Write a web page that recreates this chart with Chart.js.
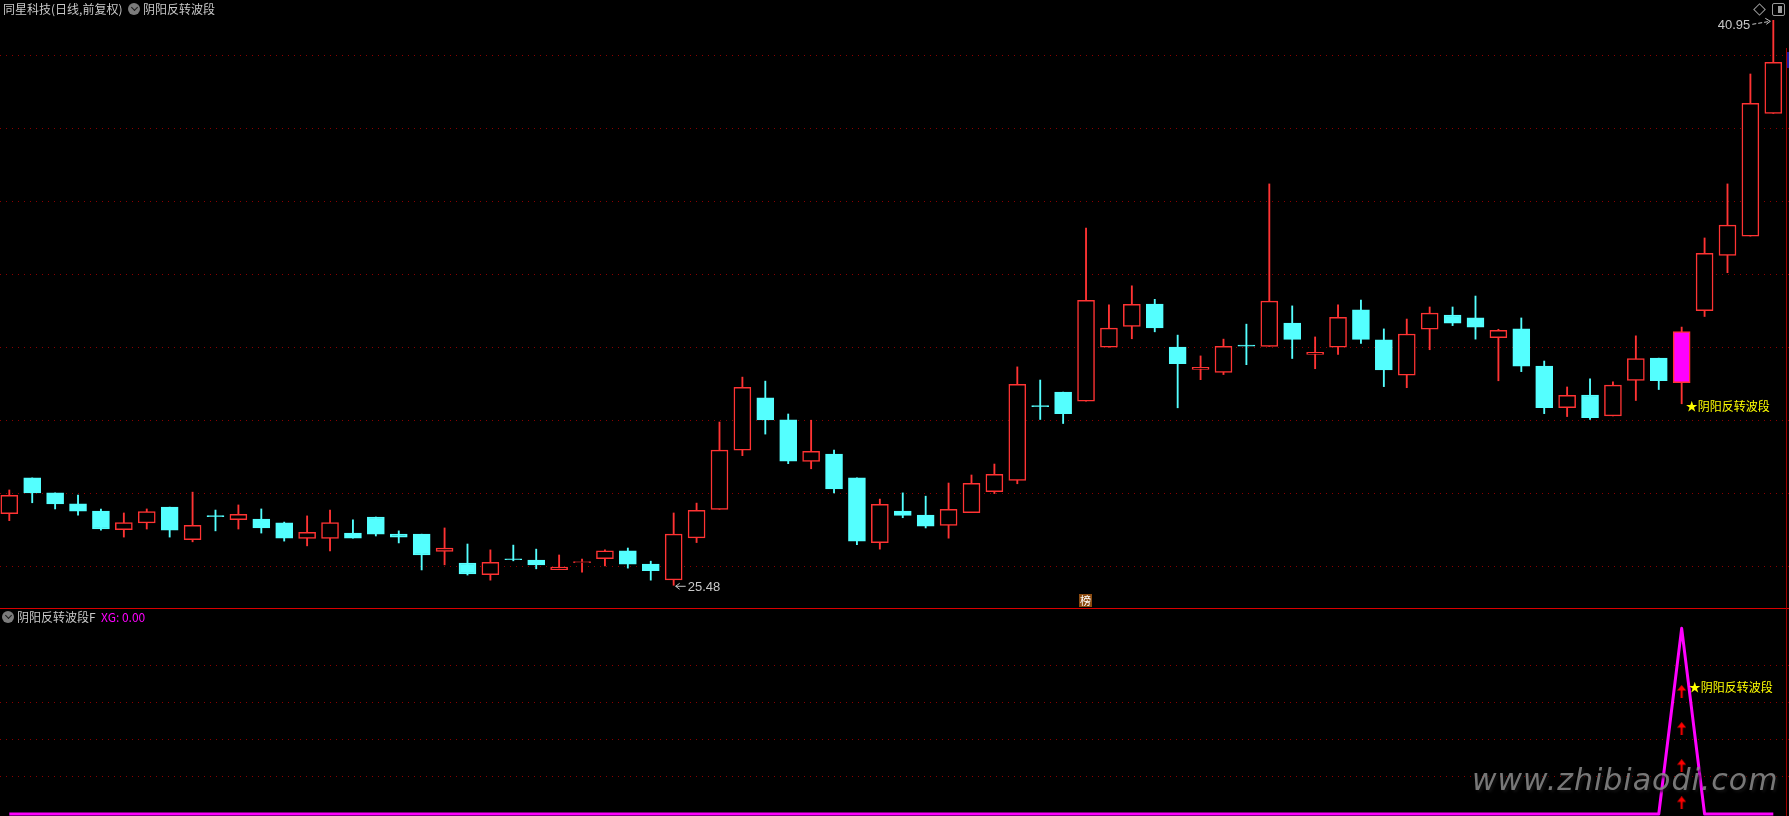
<!DOCTYPE html>
<html>
<head>
<meta charset="utf-8">
<script src="https://cdn.jsdelivr.net/npm/chart.js@4.4.1/dist/chart.umd.min.js"></script>
<style>
  body { margin: 0; background: #000; }
  #wrap { position: relative; width: 1789px; height: 816px; overflow: hidden; background: #000;
          font-family: "Noto Sans CJK SC", sans-serif; font-size: 12px; }
  .abs { position: absolute; white-space: nowrap; line-height: 14px; }
  .t { color: #c8c8c8; }
  .dot { position: absolute; width: 12px; height: 12px; border-radius: 50%; background: #7c7c7c; }
  .dot:after { content: ""; position: absolute; left: 3.5px; top: 2px; width: 4px; height: 4px;
               border-right: 1.5px solid #1a1a1a; border-bottom: 1.5px solid #1a1a1a; transform: rotate(45deg); }
  canvas { position: absolute; left: 0; }
</style>
</head>
<body>
<div id="wrap">
  <canvas id="main" width="1789" height="608" style="top:0"></canvas>
  <canvas id="sub" width="1789" height="207" style="top:609px"></canvas>

  <div class="abs" style="left:0;top:608px;width:1789px;height:1px;background:#d80000"></div>
  <div class="abs" style="left:1786px;top:48px;width:1px;height:768px;background:#a00000"></div>
  <div class="abs" style="left:1787px;top:52px;width:2px;height:16px;background:#1a1aa0"></div>

  <div class="abs t" style="left:3px;top:2px">同星科技(日线,前复权)</div>
  <div class="dot" style="left:128px;top:3px"></div>
  <div class="abs t" style="left:143px;top:2px">阴阳反转波段</div>

  <div class="abs" style="left:1755px;top:5px;width:7px;height:7px;border:1px solid #9a9a9a;transform:rotate(45deg)"></div>
  <div class="abs" style="left:1772px;top:3px;width:11px;height:11px;border:1px solid #9a9a9a;border-radius:2px">
    <div class="abs" style="left:5px;top:2px;width:4px;height:7px;background:#9a9a9a"></div>
  </div>

  <div class="abs" style="left:1079px;top:594px;width:13px;height:13px;background:#8a4a10;color:#fff;font-size:11px;line-height:13px;text-align:center">榜</div>

  <div class="dot" style="left:2px;top:611px"></div>
  <div class="abs t" style="left:17px;top:610px">阴阳反转波段F</div>
  <div class="abs" style="left:101px;top:610px;color:#ff00ff">XG: 0.00</div>

  <div class="abs" style="left:1472px;top:762px;font-family:'DejaVu Sans';font-style:italic;font-size:30px;line-height:36px;letter-spacing:1px;color:rgba(140,140,140,0.85);text-shadow:2px 2px 3px #111">www.zhibiaodi.com</div>
</div>

<script>
// daily OHLC, oldest first
const open = [27.44, 28.42, 28.01, 27.71, 27.51, 27.00, 27.19, 27.62, 26.73, 27.37,
  27.28, 27.29, 27.19, 26.76, 26.76, 26.91, 27.35, 26.88, 26.88, 26.41,
  26.09, 25.77, 26.19, 26.17, 25.91, 26.10, 26.21, 26.42, 26.06, 25.63,
  26.78, 27.56, 29.18, 30.61, 30.01, 28.87, 29.07, 28.42, 26.65, 27.51,
  27.40, 27.12, 27.47, 28.04, 28.35, 30.38, 30.77, 30.52, 32.00, 32.57,
  33.18, 32.00, 31.39, 31.31, 32.04, 32.02, 32.66, 31.80, 32.00, 33.02,
  32.20, 31.23, 32.49, 32.88, 32.80, 32.26, 32.50, 31.48, 30.34, 30.69,
  30.12, 31.09, 31.70, 31.03, 33.00, 34.51, 35.04, 38.40];
const high = [28.09, 28.42, 28.01, 27.95, 27.57, 27.46, 27.57, 27.62, 28.03, 27.54,
  27.68, 27.57, 27.21, 27.38, 27.54, 27.27, 27.35, 26.97, 26.88, 27.05,
  26.61, 26.45, 26.58, 26.47, 26.31, 26.20, 26.45, 26.50, 26.14, 27.46,
  27.73, 29.95, 31.18, 31.07, 30.17, 30.00, 29.18, 28.42, 27.84, 28.01,
  27.92, 28.28, 28.50, 28.80, 31.46, 31.10, 30.77, 35.26, 33.16, 33.68,
  33.31, 32.33, 31.76, 32.22, 32.63, 36.47, 33.13, 32.28, 33.16, 33.29,
  32.50, 32.77, 33.10, 33.10, 33.40, 32.49, 32.80, 31.62, 30.91, 31.13,
  31.05, 32.31, 31.70, 32.55, 34.99, 36.47, 39.48, 40.95];
const low = [27.25, 27.74, 27.57, 27.40, 26.99, 26.80, 27.02, 26.80, 26.67, 26.97,
  27.02, 26.91, 26.69, 26.56, 26.42, 26.77, 26.83, 26.64, 25.90, 26.04,
  25.76, 25.62, 26.15, 25.93, 25.91, 25.84, 26.01, 25.95, 25.62, 25.48,
  26.65, 27.56, 29.03, 29.62, 28.81, 28.67, 28.01, 26.59, 26.47, 27.33,
  27.05, 26.77, 27.47, 27.99, 28.26, 30.02, 29.91, 30.52, 32.00, 32.23,
  32.42, 30.34, 31.11, 31.25, 31.52, 32.02, 31.69, 31.41, 31.80, 32.10,
  30.92, 30.89, 31.93, 32.59, 32.22, 31.08, 31.33, 30.18, 30.10, 30.02,
  30.12, 30.54, 30.84, 30.45, 32.84, 34.04, 35.04, 38.40];
const close = [27.94, 28.01, 27.71, 27.51, 27.02, 27.20, 27.50, 26.99, 27.12, 27.36,
  27.42, 27.05, 26.77, 26.93, 27.20, 26.77, 26.88, 26.80, 26.31, 26.50,
  25.79, 26.11, 26.18, 26.04, 25.98, 26.11, 26.42, 26.06, 25.88, 26.88,
  27.53, 29.18, 30.90, 30.01, 28.88, 29.15, 28.12, 26.69, 27.70, 27.39,
  27.10, 27.56, 28.27, 28.52, 30.98, 30.37, 30.18, 33.28, 32.52, 33.17,
  32.53, 31.55, 31.45, 32.02, 32.03, 33.26, 32.21, 31.86, 32.82, 32.21,
  31.38, 32.36, 32.93, 32.66, 32.55, 32.46, 31.48, 30.34, 30.68, 30.07,
  30.96, 31.69, 31.08, 32.43, 34.57, 35.34, 38.68, 39.80];
// XG signal (1 on the reversal day)
const xg = open.map(() => 0);
xg[73] = 1;
const arrowVals = [0.06, 0.26, 0.46, 0.66];
const gridMain = [26, 28, 30, 32, 34, 36, 38, 40];
const gridSub = [0.2, 0.4, 0.6, 0.8];
const signalText = "★阴阳反转波段";

const RED = "#ff3333";
const CYAN = "#54ffff";
const MAGENTA = "#ff00ff";
const GRIDC = "#8a0000";

const idx = open.map((_, i) => i);
const up = idx.map(i => close[i] > open[i]);
const sig = xg.indexOf(1);

const xAxis = { type: "linear", min: -0.406, max: 77.685, offset: false, display: false };

function yAxis(min, max, ticks) {
  return {
    min: min, max: max,
    afterBuildTicks: s => { s.ticks = ticks.map(v => ({ value: v })); },
    afterFit: s => { s.width = 0; },
    ticks: { display: false },
    grid: { color: GRIDC, lineWidth: 1, drawTicks: false },
    border: { display: false, dash: [1, 5] }
  };
}

const mainMarks = {
  id: "mainMarks",
  afterDatasetsDraw(chart) {
    const { ctx, scales: { x, y } } = chart;
    ctx.save();
    ctx.font = '13px "Liberation Sans"';
    ctx.fillStyle = "#c8c8c8";
    ctx.strokeStyle = "#c8c8c8";
    ctx.lineWidth = 1;

    // highest high
    const hi = high.indexOf(Math.max(...high));
    const hx = x.getPixelForValue(hi), hy = y.getPixelForValue(high[hi]);
    ctx.textAlign = "right";
    ctx.textBaseline = "middle";
    ctx.fillText(high[hi].toFixed(2), hx - 23, hy + 5);
    ctx.setLineDash([4, 2]);
    ctx.beginPath(); ctx.moveTo(hx - 21, hy + 4); ctx.lineTo(hx - 3, hy + 1); ctx.stroke();
    ctx.setLineDash([]);
    ctx.beginPath(); ctx.moveTo(hx - 8, hy - 2); ctx.lineTo(hx - 3, hy + 1); ctx.lineTo(hx - 7, hy + 4); ctx.stroke();

    // lowest low
    const lo = low.indexOf(Math.min(...low));
    const lx = x.getPixelForValue(lo), ly = y.getPixelForValue(low[lo]);
    ctx.beginPath(); ctx.moveTo(lx + 2, ly + 1); ctx.lineTo(lx + 12, ly + 1); ctx.stroke();
    ctx.beginPath(); ctx.moveTo(lx + 6, ly - 2); ctx.lineTo(lx + 2, ly + 1); ctx.lineTo(lx + 6, ly + 4); ctx.stroke();
    ctx.textAlign = "left";
    ctx.fillText(low[lo].toFixed(2), lx + 14, ly + 2);

    // signal label
    ctx.font = '12px "Noto Sans CJK SC"';
    ctx.fillStyle = "#ffff00";
    ctx.fillText(signalText, x.getPixelForValue(sig) + 4, y.getPixelForValue(low[sig]) + 3);
    ctx.restore();
  }
};

new Chart(document.getElementById("main"), {
  type: "bar",
  data: {
    datasets: [
      {
        label: "wick",
        data: idx.map(i => ({ x: i, y: [low[i], high[i]] })),
        backgroundColor: idx.map(i => up[i] ? RED : CYAN),
        barThickness: 1.2,
        grouped: false,
        order: 2
      },
      {
        label: "body",
        data: idx.map(i => ({ x: i, y: [open[i], close[i]] })),
        backgroundColor: idx.map(i => xg[i] ? MAGENTA : up[i] ? "#000" : CYAN),
        borderColor: idx.map(i => up[i] ? RED : CYAN),
        borderWidth: 1.5,
        borderSkipped: false,
        barThickness: 17,
        minBarLength: 1,
        grouped: false,
        order: 1
      }
    ]
  },
  options: {
    responsive: false,
    animation: false,
    devicePixelRatio: 1,
    layout: { padding: 0, autoPadding: false },
    plugins: { legend: { display: false }, tooltip: { enabled: false } },
    scales: { x: xAxis, y: yAxis(24.858, 41.506, gridMain) }
  },
  plugins: [mainMarks]
});

// small red up arrow used as point style
const arrow = document.createElement("canvas");
arrow.width = 9; arrow.height = 13;
const g = arrow.getContext("2d");
g.fillStyle = "#ff0000";
g.beginPath(); g.moveTo(4.5, 0); g.lineTo(0, 5.5); g.lineTo(9, 5.5); g.closePath(); g.fill();
g.fillRect(3.5, 5, 2, 8);

const subMarks = {
  id: "subMarks",
  afterDatasetsDraw(chart) {
    const { ctx, scales: { x, y } } = chart;
    ctx.save();
    ctx.font = '12px "Noto Sans CJK SC"';
    ctx.fillStyle = "#ffff00";
    ctx.textBaseline = "middle";
    ctx.fillText(signalText, x.getPixelForValue(sig) + 7, y.getPixelForValue(0.68));
    ctx.restore();
  }
};

new Chart(document.getElementById("sub"), {
  type: "line",
  data: {
    datasets: [
      {
        type: "scatter",
        label: "up",
        data: arrowVals.map(v => ({ x: sig, y: v })),
        pointStyle: arrow,
        order: 0
      },
      {
        label: "XG",
        data: idx.map(i => ({ x: i, y: xg[i] })),
        borderColor: MAGENTA,
        borderWidth: 3,
        borderJoinStyle: "round",
        pointRadius: 0,
        tension: 0,
        order: 1
      }
    ]
  },
  options: {
    responsive: false,
    animation: false,
    devicePixelRatio: 1,
    layout: { padding: 0, autoPadding: false },
    plugins: { legend: { display: false }, tooltip: { enabled: false } },
    scales: { x: xAxis, y: yAxis(-0.0108, 1.104, gridSub) }
  },
  plugins: [subMarks]
});
</script>
</body>
</html>
